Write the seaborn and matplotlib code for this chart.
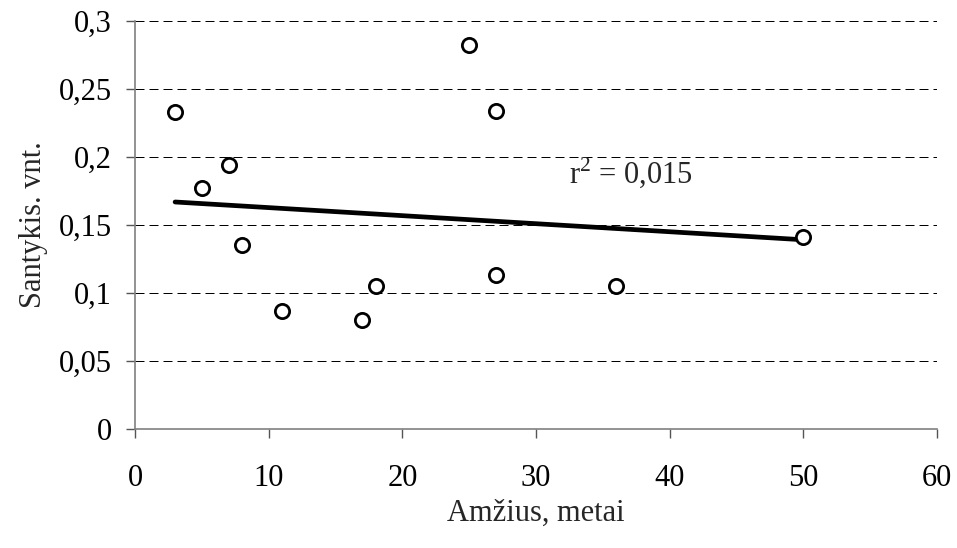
import matplotlib
matplotlib.use("Agg")
import matplotlib.pyplot as plt
import seaborn as sns
import pandas as pd

age = [3, 5, 7, 8, 11, 17, 18, 25, 27, 27, 36, 50]
ratio = [0.233, 0.177, 0.194, 0.135, 0.087, 0.080, 0.105, 0.282, 0.234, 0.113, 0.105, 0.141]
x_ticks = [0, 10, 20, 30, 40, 50, 60]
y_ticks = [0, 0.05, 0.1, 0.15, 0.2, 0.25, 0.3]
y_tick_labels = ["0", "0,05", "0,1", "0,15", "0,2", "0,25", "0,3"]
r2_text = "r$^{2}$ = 0,015"

df = pd.DataFrame({"age": age, "ratio": ratio})

sns.set_style("white")
plt.rcParams["font.family"] = ["Liberation Serif", "DejaVu Serif"]
plt.rcParams["mathtext.fontset"] = "custom"
plt.rcParams["mathtext.rm"] = "Liberation Serif"

FS = 22

fig = plt.figure(figsize=(9.57, 5.48), dpi=100)
ax = fig.add_axes([135/957, 1-429/548, (937-135)/957, (429-21)/548])

for yv in y_ticks[1:]:
    ax.axhline(yv, color="#000000", lw=0.72, linestyle=(0, (9, 5)), zorder=0)

sns.regplot(data=df, x="age", y="ratio", ax=ax, ci=None, truncate=True,
            scatter_kws=dict(s=105, facecolors="white", edgecolors="black",
                             linewidths=2.0, zorder=3, alpha=1),
            line_kws=dict(color="black", lw=3.4, zorder=2, solid_capstyle="round"))

ax.set_xlim(0, 60)
ax.set_ylim(0, 0.3)
ax.set_xticks(x_ticks)
ax.set_xticklabels([str(v) for v in x_ticks])
ax.set_yticks(y_ticks)
ax.set_yticklabels(y_tick_labels)

for s in ["top", "right"]:
    ax.spines[s].set_visible(False)
for s in ["left", "bottom"]:
    ax.spines[s].set_color("#808080")
    ax.spines[s].set_linewidth(1.2)

ax.tick_params(axis="both", which="major", direction="out", length=6.5,
               width=1.0, color="#555555", labelsize=FS, labelcolor="black")
ax.tick_params(axis="y", pad=10)
ax.tick_params(axis="x", pad=19)
ax.tick_params(left=True, bottom=True)

ax.set_xlabel("Amžius, metai", fontsize=FS, labelpad=4)
ax.set_ylabel("Santykis. vnt.", fontsize=FS, labelpad=8)

ax.text(32.5, 0.181, r2_text, fontsize=FS, ha="left", va="baseline")

fig.savefig("out.png", dpi=100)
